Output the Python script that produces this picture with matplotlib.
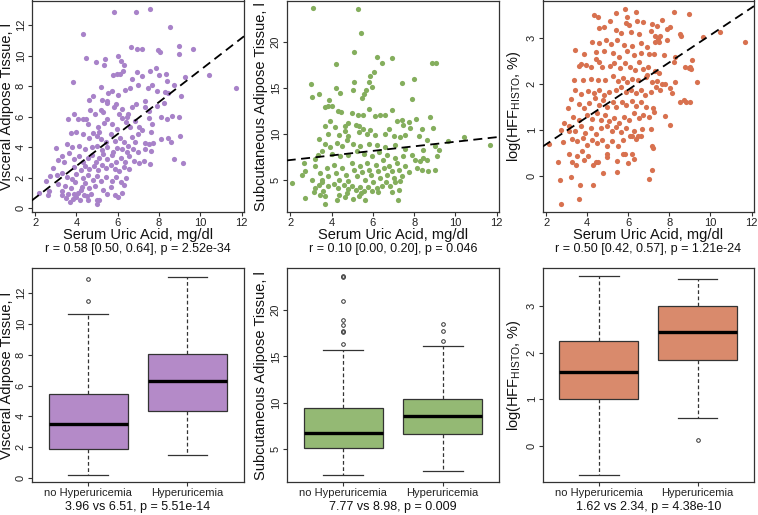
import numpy as np
import matplotlib
matplotlib.use("Agg")
import matplotlib.pyplot as plt

plt.rcParams['font.family'] = ['Liberation Sans', 'DejaVu Sans']
plt.rcParams['mathtext.fontset'] = 'custom'
plt.rcParams['mathtext.rm'] = 'Liberation Sans'

# ---------------- data ----------------
xlabel_top = "Serum Uric Acid, mg/dl"
ylabels = ["Visceral Adipose Tissue, l", "Subcutaneous Adipose Tissue, l",
           r"log(HFF$_{\mathregular{HISTO}}$, %)"]
groups = ["no Hyperuricemia", "Hyperuricemia"]
corr_texts = ["r = 0.58 [0.50, 0.64], p = 2.52e-34",
              "r = 0.10 [0.00, 0.20], p = 0.046",
              "r = 0.50 [0.42, 0.57], p = 1.21e-24"]
box_texts = ["3.96 vs 6.51, p = 5.51e-14",
             "7.77 vs 8.98, p = 0.009",
             "1.62 vs 2.34, p = 4.38e-10"]

# Visceral adipose tissue vs serum uric acid
vat_pts = [
 (5.8,12.85),(6.9,12.85),(7.55,13.05),(4.3,11.45),(8.55,11.9),(4.45,9.85),(4.95,9.6),(5.4,9.75),(5.35,9.4),
 (6.0,9.95),(6.15,9.65),(6.3,9.4),(6.65,10.6),(6.95,10.45),(7.2,10.45),(7.95,10.35),(8.05,10.25),(8.95,10.65),
 (8.95,10.1),(9.65,10.45),(10.4,8.7),(11.75,7.9),(3.85,8.25),(9.25,8.6),(8.35,8.8),(8.4,8.35),(8.75,8.05),
 (9.05,7.35),(5.75,8.75),(5.95,8.8),(6.1,8.8),(6.25,9.0),(6.7,8.45),(6.95,8.9),(7.0,8.1),(7.2,8.65),(7.55,9.0),
 (7.85,9.2),(8.0,8.7),(7.45,7.85),(7.65,8.05),(7.9,7.7),(8.3,7.6),(5.2,7.95),(5.55,7.55),(5.7,7.7),(6.0,7.45),
 (6.35,7.75),(6.6,7.9),(4.8,7.35),(5.5,7.0),(5.25,7.1),(4.6,7.1),
 (3.6,5.85),(3.9,6.15),(4.05,5.85),(4.3,5.85),(4.45,5.85),(4.65,6.45),(4.9,6.15),(4.55,5.5),(5.2,6.45),(5.3,6.3),
 (5.5,6.9),(5.8,6.6),(5.9,6.8),(6.05,6.2),(6.2,6.5),(6.45,6.0),(6.5,6.2),(6.7,6.6),(6.9,6.8),(7.3,7.0),(7.3,6.6),
 (7.5,6.4),(7.5,5.9),(7.65,5.5),(7.9,6.7),(8.1,6.0),(8.4,5.85),(8.65,6.05),(8.95,5.95),(8.25,6.9),(8.45,7.55),
 (5.05,5.35),(5.1,5.0),(5.35,5.6),(5.5,5.85),(5.7,5.5),(5.95,5.2),(6.2,5.9),(6.4,5.65),(6.6,5.3),(6.85,5.7),
 (7.05,5.35),(7.2,5.15),(7.6,5.0),(3.75,4.9),(4.0,5.0),(4.3,4.85),(4.6,4.6),(4.8,4.9),(5.0,4.7),(5.2,4.55),
 (5.45,4.35),(5.65,4.85),(5.85,4.4),(6.1,4.6),(6.3,4.35),(6.5,4.1),(6.7,4.65),(6.85,4.35),(7.0,4.85),(7.3,4.3),
 (7.5,4.2),(7.7,4.3),(8.1,4.5),(8.45,4.6),(8.6,4.35),(9.0,4.75),(8.75,3.25),(9.15,2.95),(3.55,4.2),(3.8,4.0),
 (4.1,4.05),(4.4,3.9),(4.75,4.0),(5.0,4.1),(5.25,3.8),(5.5,4.0),(5.75,3.7),(5.95,3.95),(6.2,3.85),(6.45,3.7),
 (6.75,3.9),(7.0,3.65),(7.3,3.9),(7.6,3.75),
 (3.0,3.95),(3.1,3.15),(3.3,3.4),(3.4,3.0),(3.65,3.6),(3.9,3.2),(4.1,3.4),(4.3,3.0),(4.55,3.3),(4.75,3.5),
 (4.95,3.0),(5.1,3.3),(5.3,3.55),(5.5,3.2),(5.7,3.45),(5.9,3.05),(6.15,3.3),(6.35,3.0),(6.55,3.4),(6.8,3.1),
 (7.05,2.95),(7.25,3.1),(7.55,2.9),(3.9,2.7),(4.2,2.5),(4.4,2.75),(4.6,2.55),(4.85,2.75),(5.05,2.5),(5.25,2.8),
 (5.45,2.6),(5.65,2.85),(5.85,2.55),(6.05,2.4),(6.3,2.7),(6.55,2.55),(2.7,2.1),(2.85,2.6),(3.05,2.15),(3.3,2.3),
 (3.55,2.05),(3.8,1.9),(4.0,2.25),(4.3,2.0),(4.55,2.2),(4.8,1.85),(5.0,2.1),(5.2,1.8),(5.45,2.05),(5.7,1.75),
 (5.9,2.05),(6.15,1.7),(6.4,2.0),(2.5,1.8),(2.65,1.15),(2.2,1.0),(2.6,0.85),
 (3.1,1.6),(3.3,1.15),(3.45,1.45),(3.6,0.9),(3.75,1.3),(3.85,0.6),(3.95,1.7),(4.05,1.0),(4.15,0.55),(4.25,1.4),
 (4.35,0.85),(3.5,0.65),(3.7,0.4),(4.0,0.75),(4.2,1.2),(4.4,1.65),(4.6,1.3),(4.7,0.95),(4.9,1.45),(5.0,0.25),
 (5.1,0.55),(5.3,1.2),(5.5,0.95),(5.65,1.35),(5.85,0.85),(6.0,0.7),(6.2,1.0),(4.55,0.55),(3.3,0.85),(3.9,0.95),
 (4.5,0.8),(5.0,0.55),(6.3,1.5)]

# Subcutaneous adipose tissue vs serum uric acid
sat_pts = [
 (3.08,23.66),(5.27,23.55),(5.42,20.94),(5.08,18.88),(6.19,18.4),(6.92,18.2),(4.23,17.57),(6.44,17.7),(8.85,17.7),
 (9.05,17.7),(8.0,15.98),(7.4,15.5),(6.04,16.67),(5.87,16.23),(5.79,15.58),(5.95,15.14),(5.69,14.78),(5.55,14.35),
 (5.47,13.88),(5.08,15.58),(5.06,14.71),(3.02,15.4),(3.06,13.95),(3.37,14.35),(4.23,14.96),(4.42,14.42),(7.89,13.8),
 (5.79,12.68),(6.95,12.6),(3.85,13.0),(3.66,12.9),(4.02,12.97),
 (3.9,13.7),(4.3,12.5),(4.48,12.36),(5.0,12.3),(5.3,12.07),(5.53,12.07),(6.35,12.0),(6.6,12.07),(3.94,11.34),
 (4.82,11.16),(4.63,10.8),(5.18,10.98),(5.31,10.87),(6.11,11.88),(5.53,10.5),(5.87,10.43),(6.76,10.5),(7.4,11.52),
 (7.47,10.98),(7.82,10.62),(8.08,11.6),(8.76,11.78),(8.92,10.62),(8.37,10.5),(7.73,11.23),(7.16,11.34),(3.69,10.8),
 (4.18,10.72),(4.66,10.33),(3.85,10.0),(3.37,9.42),(4.34,9.89),(4.82,9.71),(5.31,10.14),(5.71,9.96),(6.11,9.89),
 (6.6,10.0),(7.0,9.71),(7.32,9.64),(7.56,9.82),(8.21,9.71),(8.61,9.35),(9.0,8.62),(9.66,9.16),(10.39,9.6),
 (11.68,8.73),(8.45,8.26),(8.45,7.36),(8.6,7.17),(9.1,7.54),(9.18,8.26),
 (3.69,8.88),(3.94,8.51),(4.26,8.98),(4.5,8.62),(4.74,9.35),(5.02,8.91),(5.39,8.62),(5.79,8.91),(6.19,8.73),
 (6.6,8.55),(7.08,8.73),(7.56,8.33),(3.56,8.08),(4.02,7.83),(4.42,7.54),(4.82,7.64),(5.23,8.08),(5.55,7.83),
 (5.98,7.54),(6.31,7.97),(6.68,7.72),(7.08,7.36),(7.44,7.54),(7.89,7.72),(3.18,7.25),(3.34,7.64),
 (2.65,6.81),(2.73,5.91),(2.56,5.54),(3.21,6.45),(3.45,5.72),(3.53,5.0),(3.77,6.27),(3.85,5.43),(4.1,6.63),
 (4.21,5.72),(4.37,5.0),(4.53,6.27),(4.69,5.54),(4.82,4.82),(4.98,6.81),(5.11,6.01),(5.23,5.36),(5.39,6.45),
 (5.47,5.8),(5.6,5.0),(5.71,6.81),(5.79,6.09),(5.92,5.54),(6.03,4.71),(6.15,6.63),(6.24,5.91),(6.35,5.18),
 (6.47,7.17),(6.56,6.27),(6.68,5.54),(6.79,6.52),(6.92,5.91),(7.03,5.18),(7.16,6.81),(7.27,6.09),(7.4,5.36),
 (7.56,6.45),(7.73,5.83),(8.02,7.17),(8.13,6.27),(8.29,6.99),(8.37,6.09),(8.65,5.98),(9.03,6.01),
 (3.05,5.0),(3.37,4.46),(3.56,4.71),(3.85,4.35),(4.1,4.57),(4.31,4.09),(4.58,4.46),(4.79,3.99),(4.98,4.35),
 (5.18,3.84),(5.39,4.2),(5.55,3.73),(5.76,4.2),(5.98,3.73),(6.19,4.09),(6.44,4.35),(6.63,4.71),(6.84,4.28),
 (7.08,4.71),(7.32,4.82),(2.08,4.64),(3.21,4.09),(3.61,3.73),
 (3.13,3.62),(3.45,3.37),(3.69,3.19),(2.73,2.97),(3.66,2.32),(4.26,2.75),(4.66,3.12),(5.02,2.93),(5.31,3.26),
 (5.63,2.75),(6.27,3.62),(6.92,3.62),(7.24,2.79),(7.27,3.91),(4.74,3.55),(5.44,3.55),(4.34,3.37)]

# log hepatic fat fraction vs serum uric acid
hff_pts = [
 (5.84,3.63),(4.34,3.51),(4.5,3.47),(5.42,3.54),(6.39,3.58),(8.21,3.58),(8.94,3.53),(5.92,3.45),(5.11,3.38),
 (5.87,3.32),(6.03,3.29),(6.44,3.38),(6.71,3.35),(7.16,3.31),(7.4,3.27),(7.65,3.4),(7.08,3.15),(7.89,3.2),
 (8.05,3.24),(8.53,3.09),(8.58,3.04),(9.66,3.02),(10.47,3.13),(11.68,2.91),(4.58,3.22),(4.82,3.24),(5.39,3.18),
 (5.63,3.11),(6.11,3.13),(6.52,3.09),(7.32,3.04),(7.45,2.99),(7.56,3.04),(7.48,2.91),(7.89,2.96),
 (4.23,2.91),(4.58,2.89),(4.9,2.96),(5.15,2.88),(5.47,2.95),(5.79,2.86),(6.19,2.84),(6.6,2.89),(6.92,2.81),
 (7.32,2.91),(3.42,2.75),(3.85,2.66),(4.42,2.7),(4.82,2.73),(5.26,2.68),(5.55,2.6),(5.95,2.72),(6.27,2.63),
 (6.6,2.68),(7.0,2.66),(7.24,2.66),(7.73,2.63),(8.29,2.58),(8.21,2.48),(9.1,2.53),(6.52,2.48),
 (3.69,2.43),(3.61,2.39),(3.94,2.41),(4.18,2.37),(4.42,2.55),(4.58,2.48),(4.74,2.37),(5.1,2.39),(5.31,2.45),
 (5.58,2.34),(5.84,2.46),(6.06,2.37),(6.32,2.3),(6.71,2.32),(6.97,2.37),(7.32,2.29),(7.48,2.24),(8.77,2.37),
 (8.94,2.34),(9.02,2.37),(9.06,2.32),
 (3.37,2.1),(3.81,2.1),(4.18,2.12),(4.5,2.09),(4.87,2.09),(5.23,2.17),(5.52,2.07),(5.74,2.14),(5.95,2.05),
 (6.16,2.12),(6.48,2.1),(6.84,2.16),(7.16,2.05),(7.4,2.07),(7.81,2.01),(7.65,2.01),(8.29,2.05),(9.34,2.05),
 (6.92,2.19),
 (3.42,1.88),(3.69,1.78),(4.02,1.86),(4.34,1.8),(4.58,1.88),(4.82,1.76),(5.06,1.83),(5.39,1.88),(5.63,1.93),
 (5.87,1.83),(6.11,1.88),(6.35,1.8),(6.6,1.87),(6.81,1.76),(7.08,1.83),(7.35,1.93),(7.56,1.88),(8.13,1.81),
 (8.53,1.62),(8.69,1.65),(8.81,1.62),(9.02,1.62),(8.05,1.91),
 (3.05,1.47),(3.21,1.67),(3.58,1.57),(3.85,1.47),(4.1,1.58),(4.39,1.69),(4.58,1.55),(4.77,1.65),(4.98,1.51),
 (5.23,1.6),(5.42,1.5),(5.68,1.62),(5.9,1.55),(6.16,1.64),(6.35,1.53),(6.6,1.62),(6.84,1.51),(7.19,1.47),
 (2.89,1.15),(3.13,1.08),(3.32,1.29),(3.61,1.22),(3.97,1.33),(4.23,1.24),(4.45,1.37),(4.66,1.22),(4.87,1.33),
 (5.06,1.19),(5.31,1.26),(5.55,1.15),(5.79,1.29),(6.03,1.21),(6.27,1.37),(6.52,1.26),(6.71,1.33),(7.0,1.28),
 (7.24,1.4),(7.81,1.31),(8.05,1.12),
 (2.73,1.01),(3.13,0.97),(3.42,0.99),(3.69,1.08),(3.9,0.94),(4.18,1.04),(4.42,0.92),(4.66,1.04),(4.98,1.08),
 (5.19,0.97),(5.42,1.06),(5.63,0.95),(5.87,1.04),(6.06,0.86),(6.27,0.99),(6.48,0.86),(6.68,1.02),(7.08,1.02),
 (2.81,0.73),(3.26,0.81),(3.48,0.76),(3.77,0.83),(3.97,0.68),(4.23,0.79),(4.45,0.71),(4.74,0.79),(4.94,0.65),
 (5.19,0.76),(5.52,0.65),(5.74,0.79),(6.16,0.86),(6.39,0.81),(6.6,0.88),(7.16,0.65),(7.21,0.61),
 (2.16,0.7),(3.13,0.47),(3.48,0.43),(3.74,0.54),(4.02,0.43),(4.42,0.3),(4.94,0.47),(4.98,0.42),(5.74,0.47),
 (5.84,0.47),(6.16,0.47),(6.27,0.37),(6.0,0.29),(5.47,0.32),(3.85,0.35),
 (2.56,0.31),(3.26,0.3),(3.45,0.25),(4.5,0.3),(4.26,0.24),(4.77,0.07),(5.47,0.09),(7.16,0.13),(7.0,-0.06),
 (3.21,-0.02),(2.68,-0.09),(4.26,-0.2),(3.66,-0.19),(3.58,-0.5),(2.73,-0.6)]

# regression lines (intercept, slope)
fit_intercepts = [-1.43, 6.64, 0.098]
fit_slopes = [1.048, 0.249, 0.297]

# box statistics: [whislo, q1, med, q3, whishi], fliers
vat_box = [[0.2, 1.88, 3.48, 5.47, 10.66], [1.5, 4.38, 6.31, 8.04, 13.08]]
vat_fliers = [[11.47, 12.94], []]
sat_box = [[2.26, 5.18, 6.75, 9.44, 15.65], [2.7, 6.64, 8.57, 10.47, 16.1]]
sat_fliers = [[16.3, 17.6, 17.75, 18.4, 18.96, 21.0, 23.55, 23.7], [16.7, 17.7, 18.5]]
hff_box = [[-0.63, 1.0, 1.58, 2.26, 3.65], [0.6, 1.85, 2.45, 3.01, 3.6]]
hff_fliers = [[], [0.115]]

# ---------------- style ----------------
pt_colors = ['#a882c9', '#84ae5d', '#d8714f']
box_colors = ['#b48ac8', '#94b974', '#d98a6c']
xlim_sc = (1.83, 12.12)
ylims = [(-0.28, 13.62), (1.45, 24.5), (-0.79, 3.82)]
yticks = [[0, 2, 4, 6, 8, 10, 12], [5, 10, 15, 20], [0, 1, 2, 3]]
xticks = [2, 4, 6, 8, 10, 12]

W, H = 758, 515
fig = plt.figure(figsize=(W / 100, H / 100), dpi=100)

cols = [(31.7, 244.0), (286.7, 499.3), (542.7, 754.0)]
rows = [(0.5, 212.3), (268.3, 482.3)]
ylab_x = [7.5, 261.5, 514.0]
edge = '#333333'


def add_ax(c, r):
    l, rr = cols[c]
    t, b = rows[r]
    ax = fig.add_axes([l / W, 1 - b / H, (rr - l) / W, (b - t) / H])
    for s in ax.spines.values():
        s.set_color(edge)
        s.set_linewidth(0.9)
    ax.tick_params(direction='out', length=3, width=0.8, colors=edge,
                   labelsize=8, pad=1.2, labelcolor='#222222')
    return ax


scatters = [vat_pts, sat_pts, hff_pts]
boxes = [vat_box, sat_box, hff_box]
fliers = [vat_fliers, sat_fliers, hff_fliers]

for i in range(3):
    # scatter panel
    ax = add_ax(i, 0)
    pts = np.array(scatters[i])
    ax.scatter(pts[:, 0], pts[:, 1], s=14, color=pt_colors[i], linewidths=0, zorder=2)
    ax.axline((0, fit_intercepts[i]), slope=fit_slopes[i], color='black',
              linestyle=(0, (5, 3)), linewidth=1.3, zorder=3)
    ax.set_xlim(*xlim_sc)
    ax.set_ylim(*ylims[i])
    ax.set_xticks(xticks)
    ax.set_yticks(yticks[i])
    plt.setp(ax.get_yticklabels(), rotation=90, va='center')
    l, rr = cols[i]
    cx = (l + rr) / 2 / W
    fig.text(cx, 1 - 235 / H, xlabel_top, ha='center', va='center', fontsize=10.5, color='#111111')
    fig.text(cx, 1 - 249 / H, corr_texts[i], ha='center', va='center', fontsize=9, color='#111111')
    t, b = rows[0]
    fig.text(ylab_x[i] / W, 1 - (t + b) / 2 / H, ylabels[i], rotation=90, ha='center',
             va='center', fontsize=10.5, color='#111111')

    # box panel
    ax = add_ax(i, 1)
    stats = []
    for j in range(2):
        lo, q1, med, q3, hi = boxes[i][j]
        stats.append(dict(whislo=lo, q1=q1, med=med, q3=q3, whishi=hi,
                          fliers=fliers[i][j], label=groups[j]))
    ax.bxp(stats, positions=[1, 2], widths=0.8, patch_artist=True, showfliers=True,
           boxprops=dict(facecolor=box_colors[i], edgecolor=edge, linewidth=0.9),
           medianprops=dict(color='black', linewidth=2.4),
           whiskerprops=dict(color=edge, linestyle=(0, (3, 2)), linewidth=0.9),
           capprops=dict(color=edge, linewidth=0.9),
           capwidths=0.4,
           flierprops=dict(marker='o', markersize=2.6, markerfacecolor='none',
                           markeredgecolor=edge, markeredgewidth=0.7))
    ax.set_xlim(0.43, 2.57)
    ax.set_ylim(*ylims[i])
    ax.set_yticks(yticks[i])
    plt.setp(ax.get_yticklabels(), rotation=90, va='center')
    l, rr = cols[i]
    cx = (l + rr) / 2 / W
    fig.text(cx, 1 - 507 / H, box_texts[i], ha='center', va='center', fontsize=9, color='#111111')
    t, b = rows[1]
    fig.text(ylab_x[i] / W, 1 - (t + b) / 2 / H, ylabels[i], rotation=90, ha='center',
             va='center', fontsize=10.5, color='#111111')

fig.savefig('out.png', dpi=100)
